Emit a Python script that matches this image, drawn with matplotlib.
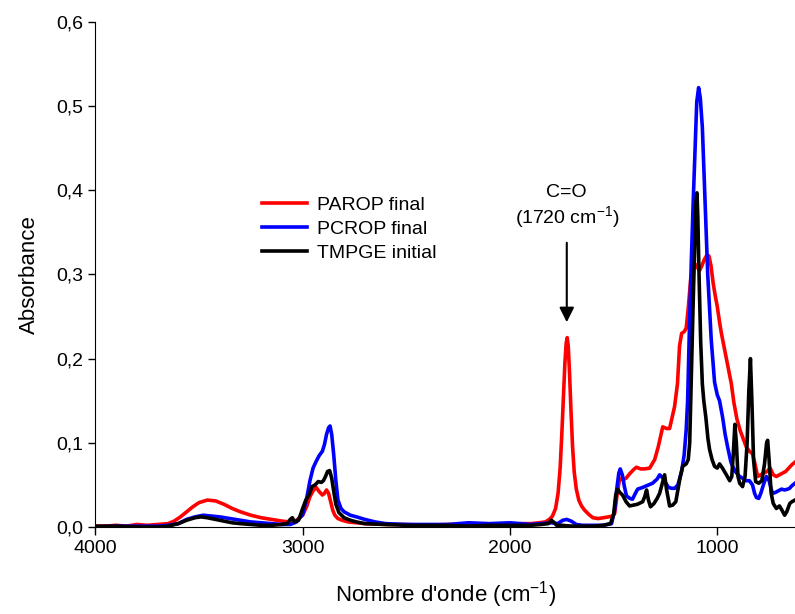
import matplotlib
matplotlib.use("Agg")
import matplotlib.pyplot as plt

# spectres IR (nombre d'onde cm-1, absorbance)
parop_wn = [4000, 3950, 3900, 3850, 3800, 3750, 3700, 3650, 3620, 3590, 3560, 3530, 3500, 3460,
            3420, 3380, 3340, 3300, 3250, 3200, 3150, 3100, 3060, 3030, 3000, 2980, 2965, 2950,
            2935, 2920, 2905, 2895, 2885, 2875, 2865, 2855, 2845, 2830, 2810, 2780, 2740, 2700,
            2600, 2500, 2400, 2300, 2200, 2100, 2000, 1950, 1900, 1860, 1830, 1810, 1795, 1780,
            1768, 1758, 1750, 1742, 1735, 1729, 1724, 1719, 1713, 1706, 1698, 1690, 1680, 1668,
            1655, 1640, 1620, 1600, 1575, 1550, 1525, 1505, 1495, 1485, 1471, 1455, 1440, 1420,
            1400, 1390, 1370, 1350, 1326, 1302, 1285, 1263, 1245, 1230, 1206, 1192, 1182, 1172,
            1160, 1150, 1140, 1128, 1115, 1105, 1095, 1085, 1075, 1062, 1050, 1040, 1030, 1020,
            1010, 1000, 990, 980, 968, 956, 944, 932, 920, 905, 890, 875, 860, 845, 830, 818,
            805, 790, 775, 760, 745, 730, 715, 700, 685, 670, 655, 640, 625]
parop_abs = [0.001, 0.001, 0.002, 0.001, 0.003, 0.002, 0.003, 0.004, 0.007, 0.012, 0.018, 0.024,
             0.029, 0.032, 0.031, 0.027, 0.022, 0.018, 0.014, 0.011, 0.009, 0.007, 0.006, 0.008,
             0.014, 0.025, 0.036, 0.043, 0.047, 0.042, 0.038, 0.040, 0.044, 0.040, 0.030, 0.020,
             0.014, 0.010, 0.008, 0.006, 0.005, 0.004, 0.003, 0.003, 0.002, 0.003, 0.002, 0.003,
             0.003, 0.004, 0.004, 0.005, 0.006, 0.009, 0.013, 0.022, 0.040, 0.070, 0.110, 0.155,
             0.195, 0.218, 0.225, 0.215, 0.185, 0.140, 0.095, 0.065, 0.045, 0.032, 0.025, 0.020,
             0.015, 0.011, 0.010, 0.011, 0.012, 0.013, 0.016, 0.035, 0.058, 0.056, 0.058, 0.064,
             0.069, 0.071, 0.069, 0.069, 0.070, 0.080, 0.095, 0.119, 0.117, 0.117, 0.143, 0.170,
             0.215, 0.230, 0.232, 0.236, 0.260, 0.295, 0.310, 0.312, 0.308, 0.305, 0.310, 0.318,
             0.323, 0.322, 0.310, 0.290, 0.275, 0.262, 0.245, 0.230, 0.215, 0.200, 0.185, 0.170,
             0.148, 0.128, 0.115, 0.105, 0.095, 0.090, 0.087, 0.075, 0.060, 0.062, 0.064, 0.066,
             0.070, 0.062, 0.060, 0.062, 0.064, 0.066, 0.070, 0.074, 0.077]

pcrop_wn = [4000, 3900, 3800, 3700, 3650, 3600, 3560, 3520, 3480, 3440, 3400, 3350, 3300, 3250,
            3200, 3150, 3100, 3060, 3030, 3000, 2980, 2965, 2950, 2935, 2920, 2905, 2895, 2885,
            2875, 2868, 2860, 2850, 2840, 2830, 2815, 2800, 2770, 2740, 2700, 2650, 2600, 2500,
            2400, 2300, 2200, 2100, 2000, 1950, 1900, 1850, 1800, 1770, 1745, 1726, 1705, 1680,
            1650, 1600, 1550, 1510, 1495, 1485, 1475, 1468, 1458, 1448, 1438, 1422, 1409, 1395,
            1384, 1360, 1341, 1312, 1290, 1278, 1262, 1248, 1235, 1220, 1205, 1190, 1172, 1160,
            1150, 1143, 1134, 1125, 1117, 1109, 1099, 1090, 1082, 1072, 1061, 1046, 1029, 1013,
            1000, 989, 974, 962, 950, 935, 926, 910, 892, 878, 860, 845, 830, 820, 811, 800,
            790, 775, 763, 750, 740, 733, 720, 705, 690, 675, 660, 651, 640, 625]
pcrop_abs = [0.000, 0.001, 0.001, 0.001, 0.002, 0.004, 0.009, 0.012, 0.014, 0.013, 0.012, 0.010,
             0.008, 0.006, 0.005, 0.004, 0.003, 0.003, 0.006, 0.015, 0.035, 0.055, 0.070, 0.078,
             0.085, 0.090, 0.098, 0.110, 0.118, 0.120, 0.110, 0.085, 0.055, 0.032, 0.022, 0.018,
             0.014, 0.012, 0.009, 0.006, 0.004, 0.003, 0.003, 0.003, 0.005, 0.004, 0.005, 0.004,
             0.003, 0.004, 0.005, 0.004, 0.008, 0.009, 0.007, 0.003, 0.002, 0.002, 0.002, 0.004,
             0.020, 0.045, 0.064, 0.069, 0.062, 0.048, 0.037, 0.034, 0.033, 0.040, 0.045, 0.047,
             0.049, 0.052, 0.057, 0.062, 0.058, 0.052, 0.047, 0.046, 0.046, 0.050, 0.066, 0.085,
             0.115, 0.150, 0.240, 0.317, 0.380, 0.436, 0.505, 0.522, 0.510, 0.475, 0.400, 0.300,
             0.222, 0.172, 0.157, 0.150, 0.130, 0.110, 0.095, 0.078, 0.072, 0.065, 0.060, 0.058,
             0.055, 0.055, 0.050, 0.040, 0.035, 0.034, 0.040, 0.052, 0.060, 0.055, 0.045, 0.040,
             0.041, 0.043, 0.045, 0.044, 0.045, 0.046, 0.049, 0.052]

tmpge_wn = [4000, 3900, 3800, 3700, 3650, 3600, 3560, 3520, 3490, 3460, 3420, 3380, 3340, 3300,
            3250, 3200, 3150, 3100, 3075, 3060, 3050, 3040, 3020, 3000, 2985, 2970, 2955, 2940,
            2925, 2910, 2900, 2890, 2880, 2870, 2860, 2850, 2840, 2825, 2800, 2770, 2740, 2700,
            2600, 2500, 2400, 2300, 2200, 2100, 2000, 1900, 1850, 1815, 1800, 1790, 1775, 1750,
            1700, 1650, 1600, 1550, 1515, 1500, 1490, 1481, 1470, 1457, 1440, 1423, 1405, 1385,
            1360, 1350, 1341, 1332, 1322, 1305, 1290, 1278, 1262, 1254, 1245, 1230, 1215, 1200,
            1192, 1180, 1167, 1150, 1140, 1133, 1125, 1117, 1109, 1103, 1098, 1094, 1088, 1080,
            1072, 1065, 1055, 1045, 1037, 1025, 1013, 1000, 989, 975, 956, 940, 930, 922, 915,
            908, 900, 892, 878, 866, 856, 848, 840, 833, 825, 815, 800, 785, 772, 762, 757, 750,
            740, 730, 715, 700, 688, 675, 665, 650, 640, 625]
tmpge_abs = [0.001, 0.001, 0.000, 0.000, 0.001, 0.004, 0.008, 0.011, 0.012, 0.011, 0.009, 0.007,
             0.005, 0.004, 0.003, 0.002, 0.002, 0.003, 0.004, 0.009, 0.011, 0.006, 0.008, 0.022,
             0.032, 0.038, 0.048, 0.050, 0.054, 0.053, 0.055, 0.060, 0.066, 0.067, 0.058, 0.042,
             0.027, 0.017, 0.011, 0.008, 0.006, 0.004, 0.003, 0.002, 0.002, 0.002, 0.001, 0.002,
             0.002, 0.002, 0.003, 0.004, 0.008, 0.006, 0.002, 0.002, 0.001, 0.001, 0.001, 0.002,
             0.004, 0.015, 0.038, 0.045, 0.041, 0.038, 0.030, 0.025, 0.026, 0.027, 0.030, 0.036,
             0.044, 0.032, 0.024, 0.028, 0.034, 0.040, 0.055, 0.062, 0.045, 0.025, 0.026, 0.030,
             0.041, 0.058, 0.072, 0.075, 0.080, 0.100, 0.180, 0.260, 0.330, 0.385, 0.397, 0.370,
             0.300, 0.220, 0.170, 0.150, 0.130, 0.105, 0.092, 0.080, 0.072, 0.070, 0.075, 0.070,
             0.062, 0.055, 0.060, 0.090, 0.122, 0.100, 0.060, 0.052, 0.048, 0.060, 0.100, 0.160,
             0.200, 0.150, 0.080, 0.054, 0.052, 0.055, 0.075, 0.100, 0.103, 0.080, 0.040, 0.028,
             0.022, 0.025, 0.020, 0.014, 0.018, 0.028, 0.030, 0.032]

series_names = ["PAROP final", "PCROP final", "TMPGE initial"]
series_colors = ["#ff0000", "#0000ff", "#000000"]

x_ticks = [4000, 3000, 2000, 1000]
y_ticks = [0.0, 0.1, 0.2, 0.3, 0.4, 0.5, 0.6]
y_tick_labels = ["0,0", "0,1", "0,2", "0,3", "0,4", "0,5", "0,6"]

plt.rcParams["font.family"] = ["Liberation Sans", "DejaVu Sans"]
plt.rcParams["mathtext.fontset"] = "custom"
plt.rcParams["mathtext.rm"] = "Liberation Sans"

fig = plt.figure(figsize=(7.95, 6.14), dpi=100)
ax = fig.add_axes([0.12, 0.1417, 0.88, 0.8225])

spectra = [(parop_wn, parop_abs), (pcrop_wn, pcrop_abs), (tmpge_wn, tmpge_abs)]
for (wn, ab), name, col in zip(spectra, series_names, series_colors):
    ax.plot(wn, ab, color=col, lw=2.6, label=name, solid_joinstyle="round")

ax.set_xlim(4000, 625)
ax.set_ylim(0, 0.6)
ax.set_xticks(x_ticks)
ax.set_xticklabels([str(t) for t in x_ticks])
ax.set_yticks(y_ticks)
ax.set_yticklabels(y_tick_labels)
ax.tick_params(axis="both", direction="out", labelsize=14, width=1, length=6)
ax.tick_params(axis="y", length=5)

ax.spines["top"].set_visible(False)
ax.spines["right"].set_visible(False)

ax.set_xlabel("Nombre d'onde (cm$^{\\mathregular{-1}}$)", fontsize=16, labelpad=16)
ax.set_ylabel("Absorbance", fontsize=16, labelpad=12)

# fleche C=O
ax.annotate("", xy=(1726, 0.240), xytext=(1726, 0.341),
            arrowprops=dict(arrowstyle="-|>", color="black", lw=1.5, mutation_scale=22))
ax.text(1726, 0.398, "C=O", ha="center", va="center", fontsize=14)
ax.text(1726, 0.367, "(1720 cm$^{\\mathregular{-1}}$)", ha="center", va="center", fontsize=14)

ax.legend(loc="center left", bbox_to_anchor=(0.238, 0.590), frameon=False, fontsize=14,
          handlelength=2.3, handletextpad=0.55, labelspacing=0.32, borderpad=0, borderaxespad=0)

fig.savefig("out.png", dpi=100)
